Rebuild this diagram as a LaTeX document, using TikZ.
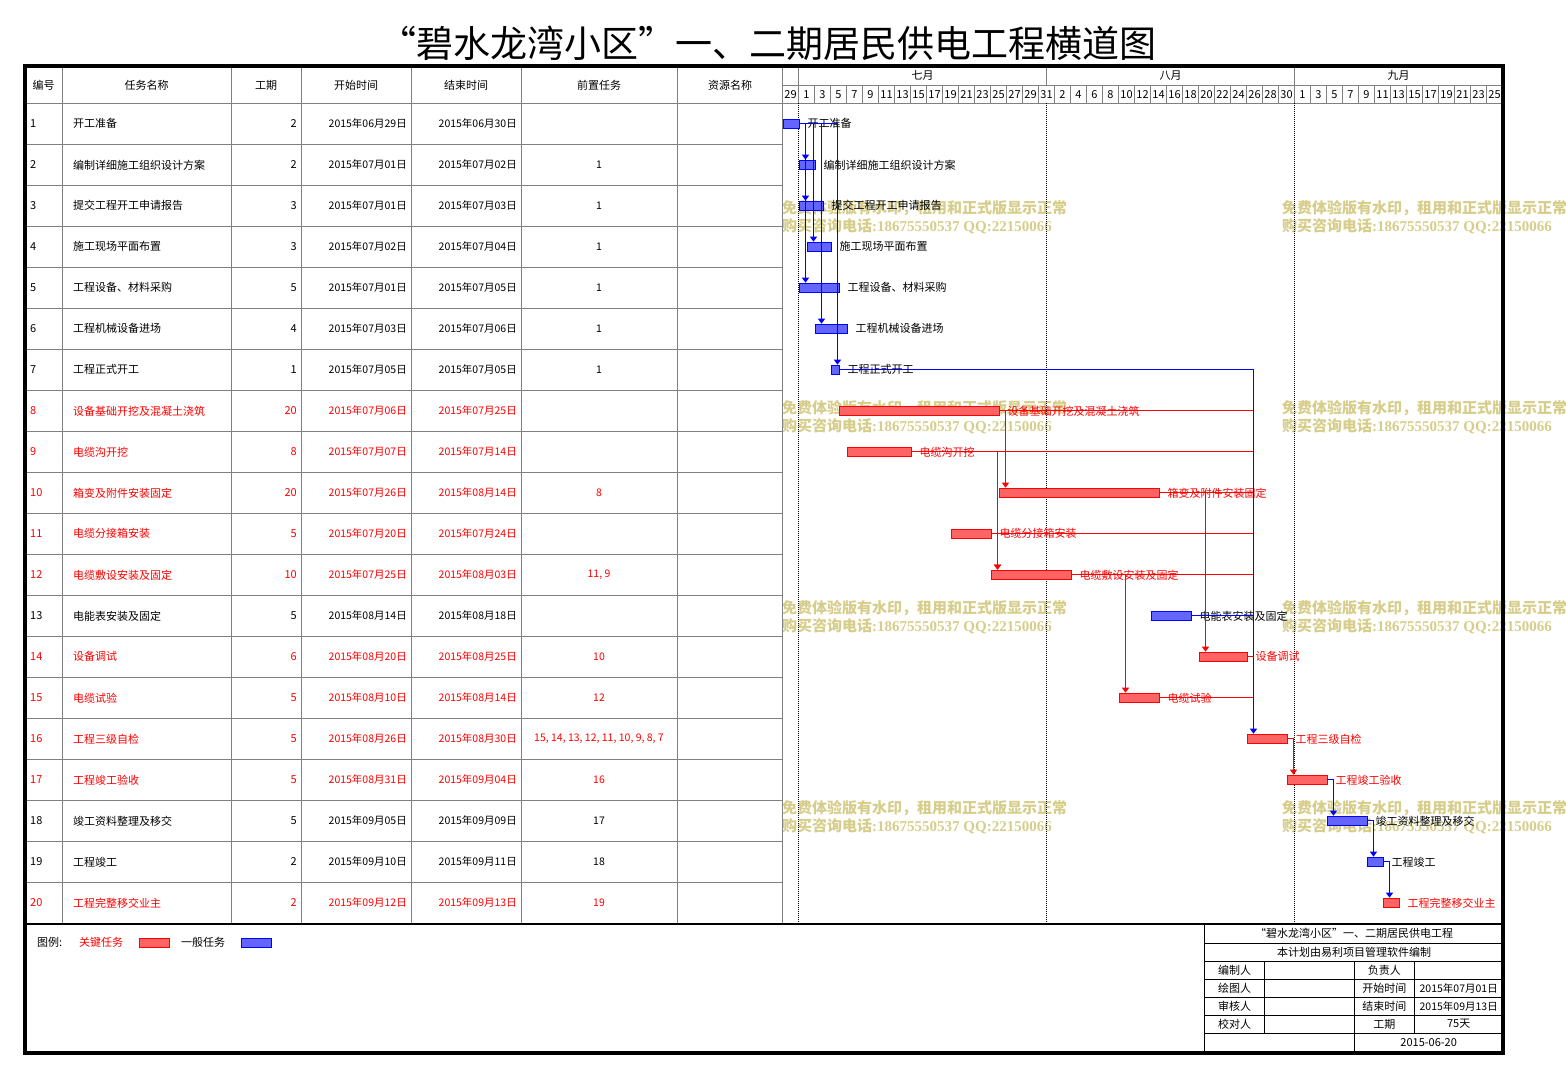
\documentclass[tikz,border=0pt]{standalone}
\usepackage{fontspec}
\setmainfont{Noto Sans CJK SC}
\newfontfamily\wmlat{Liberation Serif}
\usetikzlibrary{arrows.meta,calc}
\definecolor{wmk}{RGB}{214,205,138}
\definecolor{grd}{RGB}{128,128,128}
\definecolor{bfillr}{RGB}{255,100,100}
\definecolor{bfillb}{RGB}{100,100,255}
\begin{document}
\begin{tikzpicture}[x=1pt,y=-1pt,
  txt/.style={font=\fontsize{11}{13}\selectfont, inner sep=0pt},
  dtx/.style={font=\fontsize{10.5}{12}\selectfont, inner sep=0pt},
  gline/.style={grd, line width=0.9pt},
  bline/.style={black, line width=0.8pt},
  bar-red/.style={draw=red, fill=bfillr, line width=0.8pt, inner sep=0pt, minimum height=9.4pt},
  bar-black/.style={draw=blue, fill=bfillb, line width=0.8pt, inner sep=0pt, minimum height=9.4pt},
  conr/.style={red, line width=0.9pt},
  conb/.style={blue, line width=0.9pt},
  tip/.style={-{Triangle[width=7pt,length=5pt]}},
  wmtext/.style={font=\fontsize{15}{17}\selectfont\bfseries, text=wmk, inner sep=0pt, anchor=west},
]
\useasboundingbox (0,0) rectangle (1566,1077);

% watermarks
\foreach \wy [count=\w] in {208,408,608,808} {
  \node[wmtext] (wa\w) at (782,\wy) {免费体验版有水印，租用和正式版显示正常};
  \node[wmtext] (wb\w) at (782,\wy+18) {购买咨询电话{\wmlat\bfseries :18675550537 QQ:22150066}};
  \node[wmtext] (wc\w) at (1282,\wy) {免费体验版有水印，租用和正式版显示正常};
  \node[wmtext] (wd\w) at (1282,\wy+18) {购买咨询电话{\wmlat\bfseries :18675550537 QQ:22150066}};
}

% title
\node[inner sep=0pt, font=\fontsize{37}{41}\selectfont] (title) at (768,43) {“碧水龙湾小区”一、二期居民供电工程横道图};

% table grid
\foreach \xx in {62,231,301,411,521,677,782.5} \draw[gline] (\xx,66) -- (\xx,924);
\foreach \rr in {1,...,19} \draw[gline] (25,{103.3+41*\rr}) -- (782.5,{103.3+41*\rr});
\draw[gline] (25,103.3) -- (1503,103.3);
\draw[gline] (782.5,85) -- (1503,85);
\foreach \mx in {798.5,1046.5,1294.5} \draw[gline] (\mx,66) -- (\mx,85);
\foreach \kk in {1,...,44} \draw[gline] ({782.5+16*\kk},85) -- ({782.5+16*\kk},103.3);

% header texts
\foreach \hx/\htx [count=\hh] in {43.5/编号,146.5/任务名称,266/工期,356/开始时间,466/结束时间,599/前置任务,730/资源名称}
  \node[txt] (h\hh) at (\hx,85) {\htx};
\node[txt] (m1) at (922.5,75.5) {七月};
\node[txt] (m2) at (1170.5,75.5) {八月};
\node[txt] (m3) at (1398.5,75.5) {九月};
\foreach \dd [count=\kk from 0] in {29,1,3,5,7,9,11,13,15,17,19,21,23,25,27,29,31,2,4,6,8,10,12,14,16,18,20,22,24,26,28,30,1,3,5,7,9,11,13,15,17,19,21,23,25}
  \node[txt] (d\kk) at ({790.5+16*\kk},94.3) {\dd};

% dotted month lines
\foreach \mx in {798.5,1046.5,1294.5} \draw[black, line width=0.8pt, dash pattern=on 1pt off 1pt] (\mx,103.3) -- (\mx,924);

% tasks
\foreach \ii/\nm/\du/\sd/\ed/\pr/\off/\cc in {
1/开工准备/2/2015年06月29日/2015年06月30日//0/black,
2/编制详细施工组织设计方案/2/2015年07月01日/2015年07月02日/1/2/black,
3/提交工程开工申请报告/3/2015年07月01日/2015年07月03日/1/2/black,
4/施工现场平面布置/3/2015年07月02日/2015年07月04日/1/3/black,
5/工程设备、材料采购/5/2015年07月01日/2015年07月05日/1/2/black,
6/工程机械设备进场/4/2015年07月03日/2015年07月06日/1/4/black,
7/工程正式开工/1/2015年07月05日/2015年07月05日/1/6/black,
8/设备基础开挖及混凝土浇筑/20/2015年07月06日/2015年07月25日//7/red,
9/电缆沟开挖/8/2015年07月07日/2015年07月14日//8/red,
10/箱变及附件安装固定/20/2015年07月26日/2015年08月14日/8/27/red,
11/电缆分接箱安装/5/2015年07月20日/2015年07月24日//21/red,
12/电缆敷设安装及固定/10/2015年07月25日/2015年08月03日/{11, 9}/26/red,
13/电能表安装及固定/5/2015年08月14日/2015年08月18日//46/black,
14/设备调试/6/2015年08月20日/2015年08月25日/10/52/red,
15/电缆试验/5/2015年08月10日/2015年08月14日/12/42/red,
16/工程三级自检/5/2015年08月26日/2015年08月30日/{15, 14, 13, 12, 11, 10, 9, 8, 7}/58/red,
17/工程竣工验收/5/2015年08月31日/2015年09月04日/16/63/red,
18/竣工资料整理及移交/5/2015年09月05日/2015年09月09日/17/68/black,
19/工程竣工/2/2015年09月10日/2015年09月11日/18/73/black,
20/工程完整移交业主/2/2015年09月12日/2015年09月13日/19/75/red}
{
  \pgfmathsetmacro\yc{123.8+41*(\ii-1)}
  \pgfmathsetmacro\xa{782.5+8*\off}
  \pgfmathsetmacro\bw{8*\du}
  \node[txt, anchor=west, text=\cc] (n\ii) at (30,\yc) {\ii};
  \node[txt, anchor=west, text=\cc] (nm\ii) at (73,\yc) {\nm};
  \node[txt, anchor=east, text=\cc] (du\ii) at (297,\yc) {\du};
  \node[dtx, anchor=east, text=\cc] (sd\ii) at (407,\yc) {\sd};
  \node[dtx, anchor=east, text=\cc] (ed\ii) at (517,\yc) {\ed};
  \node[dtx, text=\cc] (pr\ii) at (599,\yc) {\pr};
  \node[bar-\cc, anchor=west, minimum width=\bw pt] (b\ii) at (\xa,\yc) {};
  \coordinate (t\ii) at ([xshift=7pt]b\ii.north west);
  \node[txt, anchor=west, text=\cc] (l\ii) at ([xshift=8pt]b\ii.east) {\nm};
}

% connectors
\foreach \tg in {2,3,4,5,6,7} \draw[conb,tip] (b1.east) -| (t\tg);
\foreach \sr/\tg in {8/10,9/12,11/12,10/14,12/15,16/17} \draw[conr,tip] (b\sr.east) -| (t\tg);
\foreach \sr in {8,9,10,11,12,14,15} \draw[conr] (b\sr.east) -- (b\sr.east -| t16);
\draw[conb] (b13.east) -- (b13.east -| t16);
\foreach \sr/\tg in {17/18,18/19,19/20} \draw[conb,tip] (b\sr.east) -| (t\tg);
\draw[conb,tip] (b7.east) -| (t16);

% legend
\node[txt, anchor=west] (lg1) at (37,942.5) {图例:};
\node[txt, anchor=west, text=red] (lg2) at (79,942.5) {关键任务};
\node[bar-red, minimum width=30pt] (lg3) at (154,942.7) {};
\node[txt, anchor=west] (lg4) at (181,942.5) {一般任务};
\node[bar-black, minimum width=30pt] (lg5) at (256,942.7) {};

% title block
\draw[bline] (1204.7,924) -- (1204.7,1052.8);
\foreach \ty in {943,961,979,997,1015,1033} \draw[bline] (1204.7,\ty) -- (1503,\ty);
\draw[bline] (1264.3,961) -- (1264.3,1033);
\draw[bline] (1354.3,961) -- (1354.3,1052.8);
\draw[bline] (1414.3,961) -- (1414.3,1033);
\node[txt] (tb1) at (1354,933.5) {“碧水龙湾小区”一、二期居民供电工程};
\node[txt] (tb2) at (1354,952) {本计划由易利项目管理软件编制};
\node[txt] (tb3) at (1234.5,970) {编制人};
\node[txt] (tb4) at (1384.3,970) {负责人};
\node[txt] (tb5) at (1234.5,988) {绘图人};
\node[txt] (tb6) at (1384.3,988) {开始时间};
\node[dtx] (tb7) at (1458.7,988) {2015年07月01日};
\node[txt] (tb8) at (1234.5,1006) {审核人};
\node[txt] (tb9) at (1384.3,1006) {结束时间};
\node[dtx] (tb10) at (1458.7,1006) {2015年09月13日};
\node[txt] (tb11) at (1234.5,1024) {校对人};
\node[txt] (tb12) at (1384.3,1024) {工期};
\node[txt] (tb13) at (1458.7,1024) {75天};
\node[txt] (tb14) at (1428.7,1042.8) {2015-06-20};

% frame
\draw[line width=2pt] (25,924) -- (1503,924);
\draw[line width=4pt] (25.3,66) rectangle (1503,1052.8);
\end{tikzpicture}
\end{document}
